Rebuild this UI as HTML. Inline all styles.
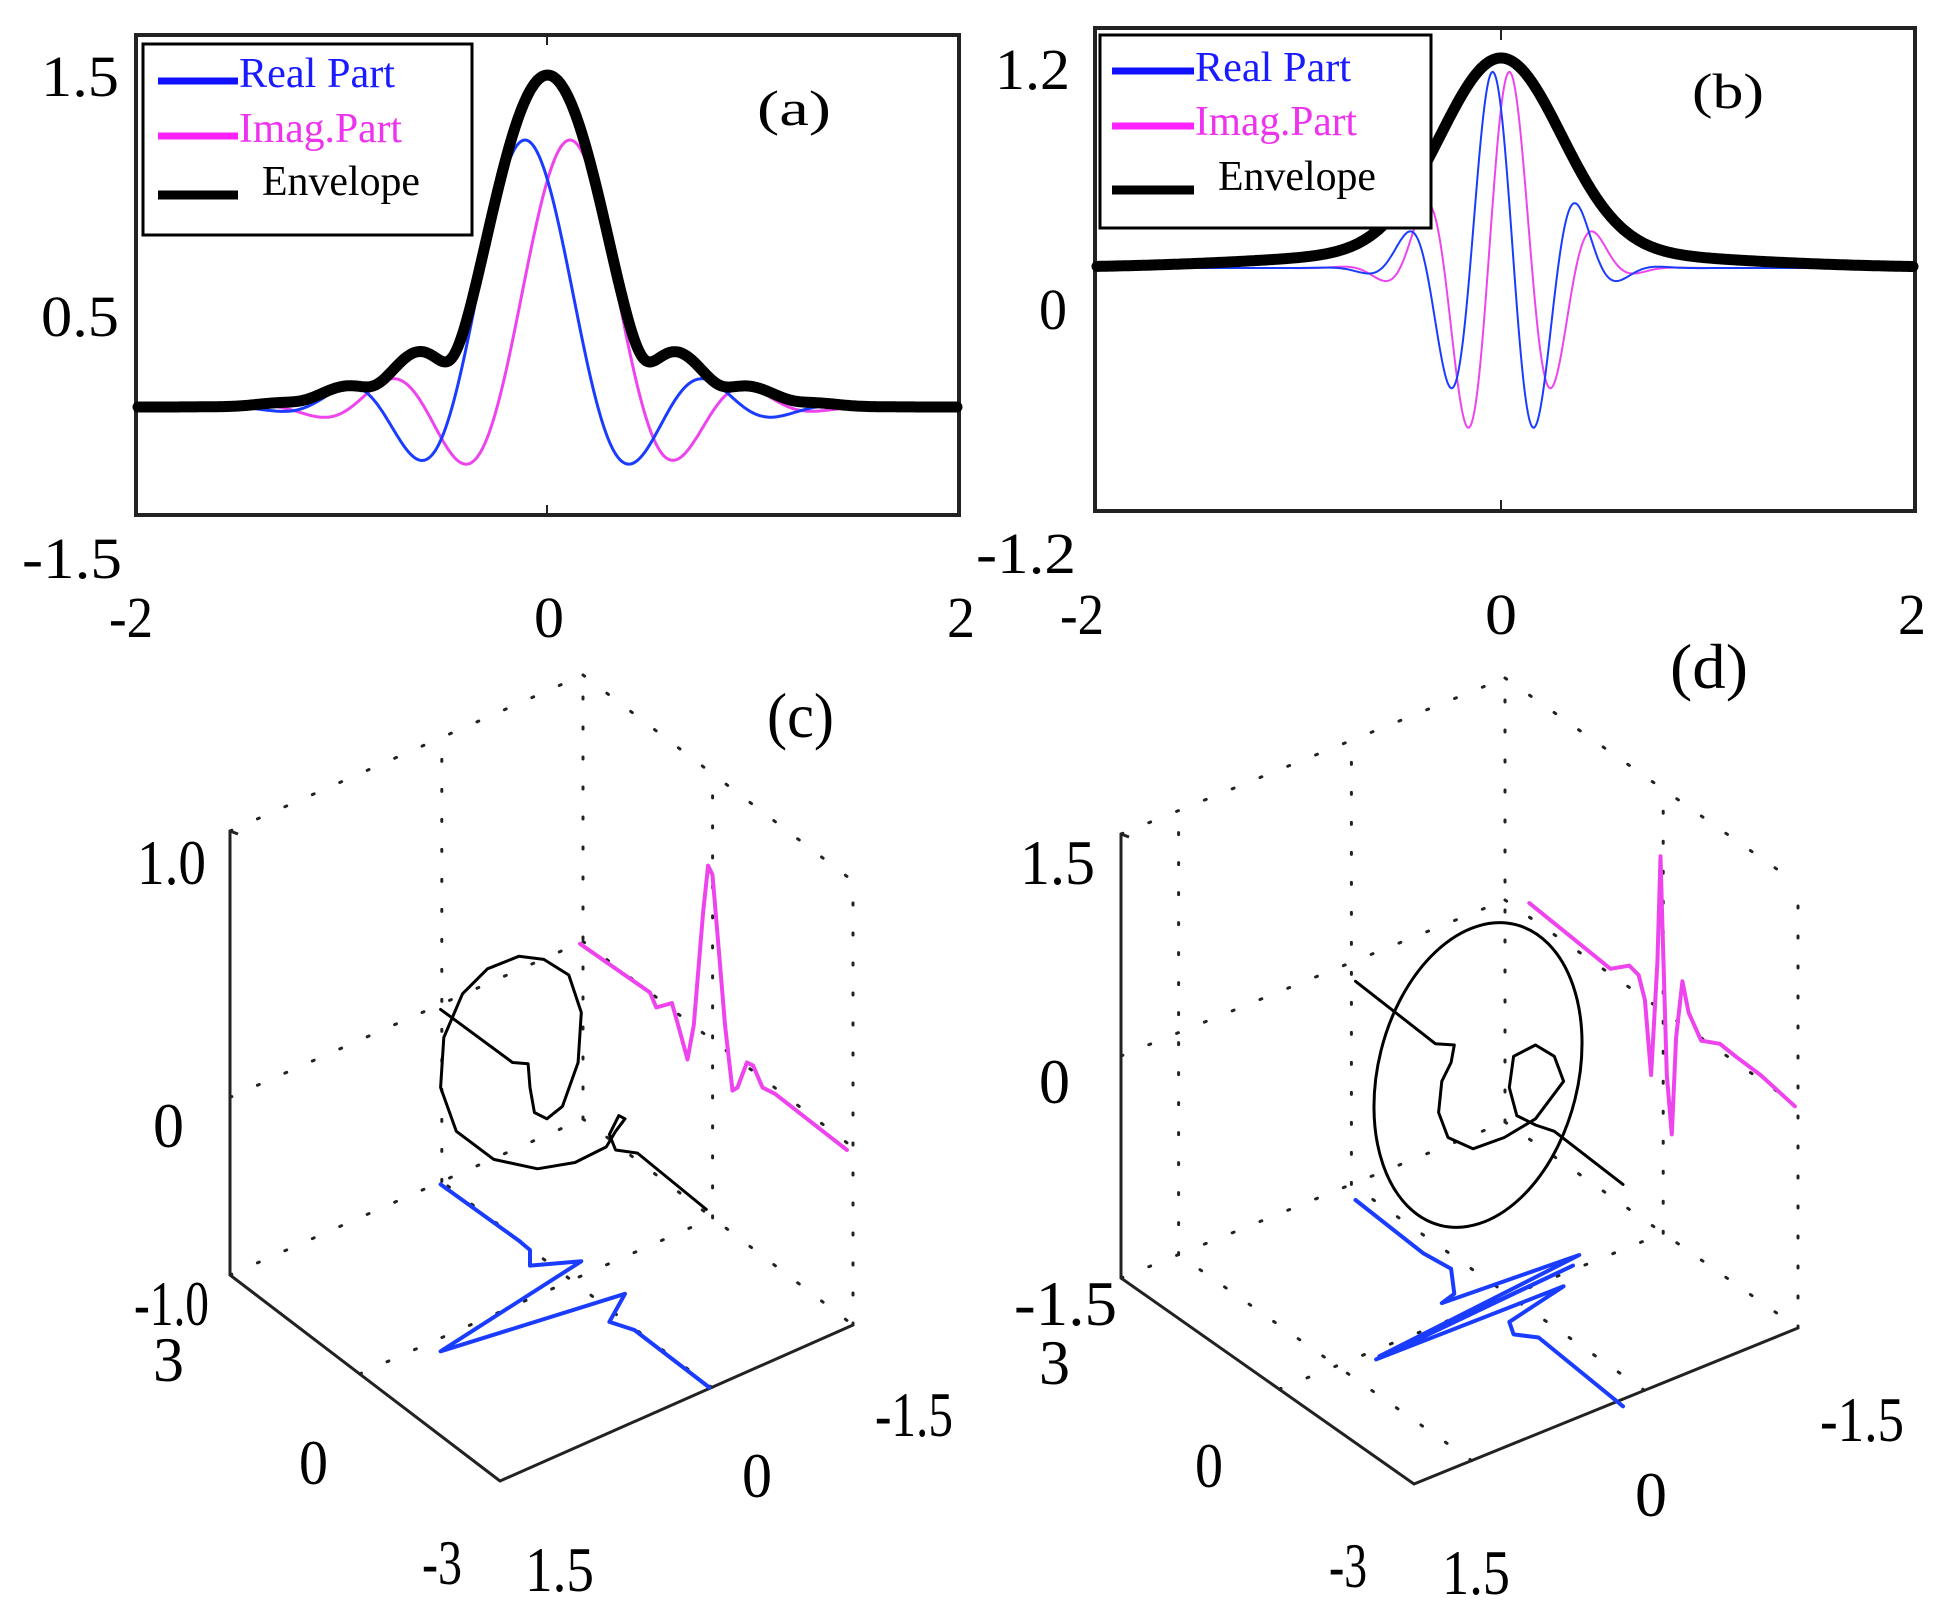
<!DOCTYPE html>
<html><head><meta charset="utf-8">
<style>
html,body{margin:0;padding:0;background:#fff;}
svg{display:block;}
text{font-family:"Liberation Serif",serif;}
</style></head>
<body>
<svg id="s" width="1946" height="1622" viewBox="0 0 1946 1622" xmlns="http://www.w3.org/2000/svg">
<rect width="1946" height="1622" fill="#fff"/>
<g id="g"></g>
<g fill="#000">
<!-- Panel a texts -->
<text x="41" y="96" font-size="58" textLength="78" lengthAdjust="spacingAndGlyphs">1.5</text>
<text x="41" y="336" font-size="58" textLength="78" lengthAdjust="spacingAndGlyphs">0.5</text>
<text x="22" y="578" font-size="58" textLength="100" lengthAdjust="spacingAndGlyphs">-1.5</text>
<text x="109" y="637" font-size="58" textLength="44" lengthAdjust="spacingAndGlyphs">-2</text>
<text x="534" y="637" font-size="58" textLength="30" lengthAdjust="spacingAndGlyphs">0</text>
<text x="947" y="637" font-size="58" textLength="28" lengthAdjust="spacingAndGlyphs">2</text>
<text x="757" y="125" font-size="50" textLength="74" lengthAdjust="spacingAndGlyphs">(a)</text>
<text x="239" y="87" font-size="42" fill="#1a1aff" textLength="156" lengthAdjust="spacingAndGlyphs">Real Part</text>
<text x="239" y="142" font-size="42" fill="#ee33ee" textLength="163" lengthAdjust="spacingAndGlyphs">Imag.Part</text>
<text x="262" y="195" font-size="42" textLength="158" lengthAdjust="spacingAndGlyphs">Envelope</text>
<!-- Panel b -->
<text x="995" y="89" font-size="58" textLength="75" lengthAdjust="spacingAndGlyphs">1.2</text>
<text x="1039" y="329" font-size="58" textLength="28" lengthAdjust="spacingAndGlyphs">0</text>
<text x="976" y="573" font-size="58" textLength="100" lengthAdjust="spacingAndGlyphs">-1.2</text>
<text x="1060" y="634" font-size="58" textLength="44" lengthAdjust="spacingAndGlyphs">-2</text>
<text x="1485" y="634" font-size="58" textLength="32" lengthAdjust="spacingAndGlyphs">0</text>
<text x="1898" y="634" font-size="58" textLength="28" lengthAdjust="spacingAndGlyphs">2</text>
<text x="1692" y="108" font-size="50" textLength="72" lengthAdjust="spacingAndGlyphs">(b)</text>
<text x="1195" y="81" font-size="42" fill="#1a1aff" textLength="156" lengthAdjust="spacingAndGlyphs">Real Part</text>
<text x="1195" y="135" font-size="42" fill="#ee33ee" textLength="162" lengthAdjust="spacingAndGlyphs">Imag.Part</text>
<text x="1218" y="190" font-size="42" textLength="158" lengthAdjust="spacingAndGlyphs">Envelope</text>
<!-- Panel c -->
<text x="137" y="884" font-size="64" textLength="69" lengthAdjust="spacingAndGlyphs">1.0</text>
<text x="153" y="1147" font-size="64" textLength="31" lengthAdjust="spacingAndGlyphs">0</text>
<text x="134" y="1325" font-size="64" textLength="75" lengthAdjust="spacingAndGlyphs">-1.0</text>
<text x="153" y="1381" font-size="64" textLength="31" lengthAdjust="spacingAndGlyphs">3</text>
<text x="299" y="1484" font-size="64" textLength="29" lengthAdjust="spacingAndGlyphs">0</text>
<text x="422" y="1584" font-size="64" textLength="40" lengthAdjust="spacingAndGlyphs">-3</text>
<text x="525" y="1591" font-size="64" textLength="69" lengthAdjust="spacingAndGlyphs">1.5</text>
<text x="742" y="1497" font-size="64" textLength="30" lengthAdjust="spacingAndGlyphs">0</text>
<text x="875" y="1436" font-size="64" textLength="78" lengthAdjust="spacingAndGlyphs">-1.5</text>
<text x="767" y="737" font-size="64" textLength="67" lengthAdjust="spacingAndGlyphs">(c)</text>
<!-- Panel d -->
<text x="1020" y="884" font-size="64" textLength="75" lengthAdjust="spacingAndGlyphs">1.5</text>
<text x="1039" y="1103" font-size="64" textLength="31" lengthAdjust="spacingAndGlyphs">0</text>
<text x="1014" y="1325" font-size="64" textLength="103" lengthAdjust="spacingAndGlyphs">-1.5</text>
<text x="1039" y="1384" font-size="64" textLength="31" lengthAdjust="spacingAndGlyphs">3</text>
<text x="1195" y="1487" font-size="64" textLength="28" lengthAdjust="spacingAndGlyphs">0</text>
<text x="1329" y="1587" font-size="64" textLength="38" lengthAdjust="spacingAndGlyphs">-3</text>
<text x="1442" y="1594" font-size="64" textLength="68" lengthAdjust="spacingAndGlyphs">1.5</text>
<text x="1635" y="1516" font-size="64" textLength="32" lengthAdjust="spacingAndGlyphs">0</text>
<text x="1820" y="1441" font-size="64" textLength="84" lengthAdjust="spacingAndGlyphs">-1.5</text>
<text x="1670" y="688" font-size="64" textLength="78" lengthAdjust="spacingAndGlyphs">(d)</text>
</g>
</svg>
<script>
(function(){
var g=document.getElementById('g');var NS='http://www.w3.org/2000/svg';
function el(t,a){var e=document.createElementNS(NS,t);for(var k in a)e.setAttribute(k,a[k]);g.appendChild(e);return e;}
function path(pts,st,w,extra){var d='M'+pts.map(function(p){return p[0].toFixed(1)+' '+p[1].toFixed(1)}).join(' L');var a={d:d,fill:'none',stroke:st,'stroke-width':w,'stroke-linejoin':'round','stroke-linecap':'round'};for(var k in extra)a[k]=extra[k];return el('path',a);}
var BLUE='#1a3cff',MAG='#ee44ee';
function sinc(t){return Math.abs(t)<1e-6?1:Math.sin(t)/t;}
// Panel a
el('rect',{x:136,y:35,width:823,height:480,fill:'none',stroke:'#222','stroke-width':4});
el('line',{x1:547,y1:35,x2:547,y2:45,stroke:'#222','stroke-width':2});
el('line',{x1:547,y1:515,x2:547,y2:505,stroke:'#222','stroke-width':2});
var re=[],im=[],en=[];
for(var x=138;x<=957;x+=1){var u=x-547;var w=Math.exp(-Math.pow(u/235,4));var r=sinc((u+22)/23.2)*w,i=sinc((u-23)/23.2)*w;
re.push([x,407-267*r]);im.push([x,407-267*i]);en.push([x,407-276*Math.sqrt(r*r+i*i)]);}
path(im,MAG,3);path(re,BLUE,3);path(en,'#000',11);
el('rect',{x:143,y:44,width:329,height:191,fill:'#fff',stroke:'#000','stroke-width':3});
el('line',{x1:158,y1:81,x2:238,y2:81,stroke:'#1010ff','stroke-width':7});
el('line',{x1:158,y1:136,x2:238,y2:136,stroke:'#ff22ff','stroke-width':7});
el('line',{x1:158,y1:195,x2:238,y2:195,stroke:'#000','stroke-width':9});
// Panel b
el('rect',{x:1095,y:28,width:820,height:483,fill:'none',stroke:'#222','stroke-width':4});
el('line',{x1:1501,y1:28,x2:1501,y2:40,stroke:'#222','stroke-width':2});
el('line',{x1:1501,y1:511,x2:1501,y2:500,stroke:'#222','stroke-width':2});
re=[];im=[];en=[];
for(var x=1097;x<=1913;x+=1){var u=x-1501;var gg=Math.exp(-(u/72)*(u/72));
re.push([x,268-199*gg*Math.cos(2*Math.PI*(u+9)/88)]);im.push([x,268-199*gg*Math.cos(2*Math.PI*(u-9)/88)]);
en.push([x,268-192*Math.exp(-(u/85)*(u/85))-18*Math.exp(-(u/260)*(u/260))]);}
path(im,MAG,2);path(re,BLUE,2);path(en,'#000',11);
el('rect',{x:1100,y:35,width:331,height:193,fill:'#fff',stroke:'#000','stroke-width':3});
el('line',{x1:1112,y1:71,x2:1194,y2:71,stroke:'#1010ff','stroke-width':7});
el('line',{x1:1112,y1:126,x2:1194,y2:126,stroke:'#ff22ff','stroke-width':7});
el('line',{x1:1112,y1:190,x2:1194,y2:190,stroke:'#000','stroke-width':9});
// 3D boxes
function box(F,X,Y,Z,gx,gy,gz){
 function P(a,b,c){return [F[0]+a*X[0]+b*Y[0]+c*Z[0],F[1]+a*X[1]+b*Y[1]+c*Z[1]];}
 var dot={'stroke-dasharray':'2 28'};
 function dl(p,q){path([p,q],'#222',3,dot);}
 dl(P(1,0,1),P(1,1,1));dl(P(1,1,1),P(0,1,1));dl(P(1,1,0),P(1,1,1));dl(P(0,1,0),P(0,1,1));
 dl(P(1,0,0),P(1,1,0));dl(P(1,1,0),P(0,1,0));
 gx.forEach(function(a){dl(P(a,1,0),P(a,1,1));dl(P(a,0,0),P(a,1,0));});
 gy.forEach(function(b){dl(P(1,b,0),P(1,b,1));dl(P(0,b,0),P(1,b,0));});
 gz.forEach(function(c){dl(P(1,0,c),P(1,1,c));dl(P(1,1,c),P(0,1,c));});
 path([P(1,0,1),P(1,0,0),P(0,0,0),P(0,1,0)],'#222',3);
 el('line',{x1:P(1,0,1)[0],y1:P(1,0,1)[1],x2:P(1,0,1)[0]+8,y2:P(1,0,1)[1]+3,stroke:'#222','stroke-width':3});
}
box([500,1481],[-270,-206],[353,-156],[0,-444],[0.52],[0.6],[0.4]);
box([1414,1484],[-293,-206],[384,-156],[0,-444],[0.46],[0.15,0.6],[0.5]);
function Z(list,ox,oy){return list.map(function(p){return [p[0]/1.6+ox,p[1]/1.6+oy];});}
// c curves
path(Z([[928,470],[1040,548],[1050,572],[1075,565],[1085,600],[1100,655],[1110,600],[1125,420],[1133,345],[1140,360],[1150,480],[1160,600],[1172,705],[1180,700],[1195,660],[1205,665],[1220,700],[1240,710],[1355,800]],0,650),MAG,4);
path(Z([[705,855],[830,945],[848,960],[848,985],[930,978],[705,1122],[1000,1030],[975,1075],[1015,1088],[1135,1180]],0,650),BLUE,4);
path(Z([[705,575],[820,660],[845,662],[848,700],[855,740],[875,750],[900,730],[925,660],[930,580],[910,520],[870,495],[830,490],[780,510],[740,550],[710,620],[705,700],[730,770],[790,815],[860,830],[920,820],[970,795],[985,770],[1000,750],[990,745],[975,775],[985,800],[1020,805],[1130,895]],0,650),'#000',3);
// d curves
path(Z([[890,405],[1020,510],[1050,505],[1065,520],[1075,560],[1085,680],[1095,500],[1100,330],[1103,440],[1110,680],[1118,775],[1125,620],[1135,530],[1145,580],[1165,625],[1195,630],[1220,650],[1260,680],[1315,730]],973,650),MAG,4);
path(Z([[612,880],[720,965],[765,990],[770,1030],[750,1045],[970,968],[650,1130],[960,985],[645,1135],[945,1018],[858,1075],[865,1095],[905,1100],[1040,1210]],973,650),BLUE,4);
path(Z([[612,530],[740,630],[770,632],[765,660],[750,690],[745,740],[760,780],[800,798],[850,780],[900,750],[945,690],[930,650],[900,632],[865,650],[858,700],[870,745],[900,760],[930,770],[1040,855]],973,650),'#000',3);
el('ellipse',{cx:1478,cy:1075,rx:100,ry:155,transform:'rotate(14 1478 1075)',fill:'none',stroke:'#000','stroke-width':3});
})();
</script>
</body></html>
